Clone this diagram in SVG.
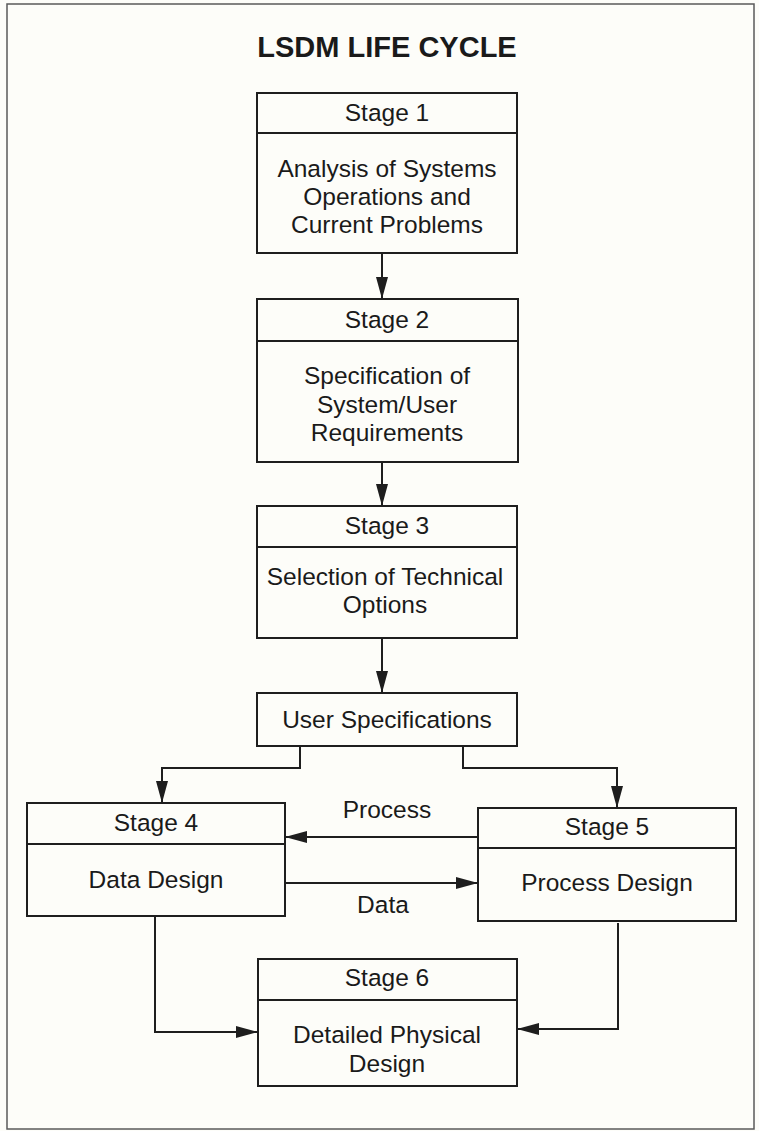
<svg xmlns="http://www.w3.org/2000/svg" width="759" height="1131" viewBox="0 0 759 1131">
  <style>
    .box { fill: none; stroke: #1e1e1e; stroke-width: 2; }
    .div { stroke: #1e1e1e; stroke-width: 2; }
    .wire { fill: none; stroke: #1e1e1e; stroke-width: 2; }
    .lbl { font-family: "Liberation Sans", Arial, Helvetica, sans-serif; font-size: 24.5px; fill: #1a1a1a; text-anchor: middle; }
    .title { font-family: "Liberation Sans", Arial, Helvetica, sans-serif; font-size: 29px; font-weight: bold; fill: #1a1a1a; text-anchor: middle; }
  </style>
  <defs>
    <marker id="arrow" markerUnits="userSpaceOnUse" markerWidth="22" markerHeight="12" refX="22" refY="6" orient="auto">
      <path d="M0,0 L22,6 L0,12 Z" fill="#1e1e1e"/>
    </marker>
  </defs>

  <!-- page and frame -->
  <rect x="0" y="0" width="759" height="1131" fill="#fdfdf9"/>
  <rect x="7" y="4" width="747" height="1125" fill="none" stroke="#5a5a5a" stroke-width="1.5"/>

  <text class="title" x="387" y="57">LSDM LIFE CYCLE</text>

  <!-- connectors -->
  <g id="connectors">
    <line class="wire" x1="382" y1="253" x2="382" y2="299" marker-end="url(#arrow)"/>
    <line class="wire" x1="382" y1="462" x2="382" y2="506" marker-end="url(#arrow)"/>
    <line class="wire" x1="382" y1="638" x2="382" y2="693" marker-end="url(#arrow)"/>
    <polyline class="wire" points="300,746 300,768 162,768 162,803" marker-end="url(#arrow)"/>
    <polyline class="wire" points="463,746 463,768 617,768 617,808" marker-end="url(#arrow)"/>
    <line class="wire" x1="478" y1="837" x2="285" y2="837" marker-end="url(#arrow)"/>
    <line class="wire" x1="285" y1="883" x2="478" y2="883" marker-end="url(#arrow)"/>
    <polyline class="wire" points="155,916 155,1032 258,1032" marker-end="url(#arrow)"/>
    <polyline class="wire" points="618,923 618,1029 517,1029" marker-end="url(#arrow)"/>
    <text class="lbl" x="387" y="818">Process</text>
    <text class="lbl" x="383" y="913">Data</text>
  </g>

  <g id="stage1">
    <rect class="box" x="257" y="93" width="260" height="160"/>
    <line class="div" x1="257" y1="133" x2="517" y2="133"/>
    <text class="lbl" x="387" y="121">Stage 1</text>
    <text class="lbl" x="387" y="177">Analysis of Systems</text>
    <text class="lbl" x="387" y="205">Operations and</text>
    <text class="lbl" x="387" y="233">Current Problems</text>
  </g>

  <g id="stage2">
    <rect class="box" x="257" y="299" width="261" height="163"/>
    <line class="div" x1="257" y1="341" x2="518" y2="341"/>
    <text class="lbl" x="387" y="328">Stage 2</text>
    <text class="lbl" x="387" y="384">Specification of</text>
    <text class="lbl" x="387" y="413">System/User</text>
    <text class="lbl" x="387" y="441">Requirements</text>
  </g>

  <g id="stage3">
    <rect class="box" x="257" y="506" width="260" height="132"/>
    <line class="div" x1="257" y1="547" x2="517" y2="547"/>
    <text class="lbl" x="387" y="534">Stage 3</text>
    <text class="lbl" x="385" y="585">Selection of Technical</text>
    <text class="lbl" x="385" y="613">Options</text>
  </g>

  <g id="user-specs">
    <rect class="box" x="257" y="693" width="260" height="53"/>
    <text class="lbl" x="387" y="728">User Specifications</text>
  </g>

  <g id="stage4">
    <rect class="box" x="27" y="803" width="258" height="113"/>
    <line class="div" x1="27" y1="844" x2="285" y2="844"/>
    <text class="lbl" x="156" y="831">Stage 4</text>
    <text class="lbl" x="156" y="888">Data Design</text>
  </g>

  <g id="stage5">
    <rect class="box" x="478" y="808" width="258" height="113"/>
    <line class="div" x1="478" y1="848" x2="736" y2="848"/>
    <text class="lbl" x="607" y="835">Stage 5</text>
    <text class="lbl" x="607" y="891">Process Design</text>
  </g>

  <g id="stage6">
    <rect class="box" x="258" y="959" width="259" height="127"/>
    <line class="div" x1="258" y1="1000" x2="517" y2="1000"/>
    <text class="lbl" x="387" y="986">Stage 6</text>
    <text class="lbl" x="387" y="1043">Detailed Physical</text>
    <text class="lbl" x="387" y="1072">Design</text>
  </g>
</svg>
